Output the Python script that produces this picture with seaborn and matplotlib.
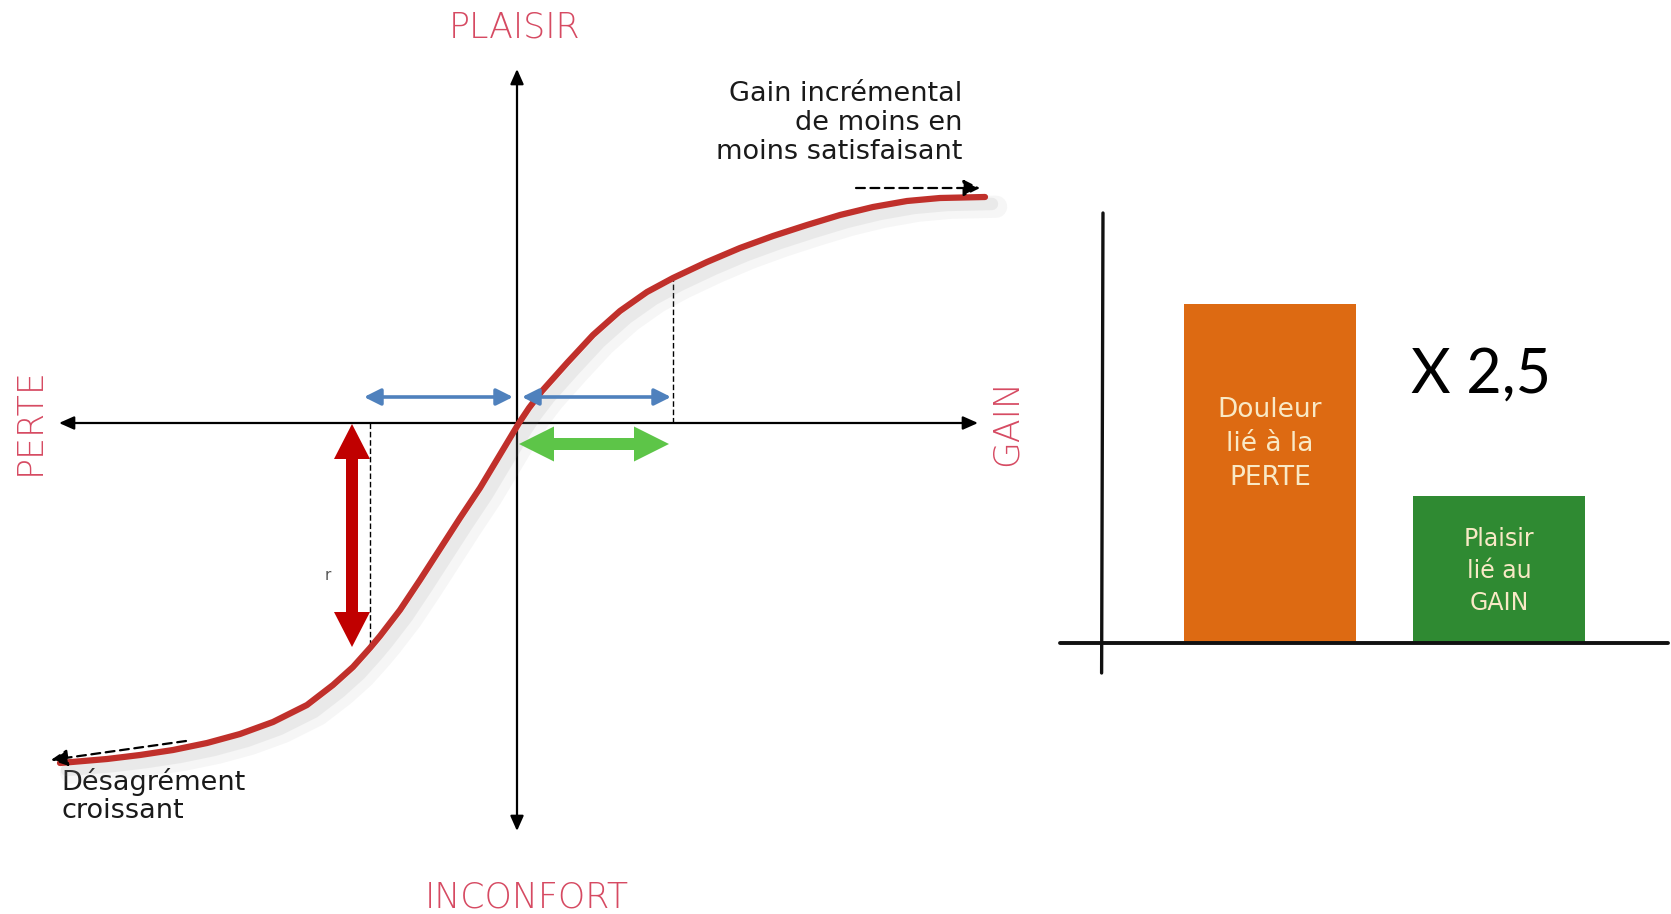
import numpy as np
import pandas as pd
import matplotlib
matplotlib.use("Agg")
import matplotlib.pyplot as plt
import matplotlib.patheffects as pe
from matplotlib.patches import FancyArrowPatch, ArrowStyle
import seaborn as sns

# ---------------- data ----------------
# value function (loss aversion), origin at axes crossing
curve_x = [-4.57, -4.10, -3.77, -3.44, -3.10, -2.77, -2.44, -2.10, -1.84, -1.64,
           -1.47, -1.37, -1.17, -0.97, -0.77, -0.57, -0.37, -0.16, 0.02, 0.12,
           0.25, 0.50, 0.76, 1.03, 1.30, 1.56, 1.90, 2.23, 2.56, 2.90,
           3.23, 3.56, 3.90, 4.23, 4.68]
curve_y = [-3.40, -3.36, -3.32, -3.27, -3.20, -3.11, -2.99, -2.82, -2.62, -2.44,
           -2.25, -2.13, -1.87, -1.57, -1.26, -0.95, -0.65, -0.30, 0.00, 0.15,
           0.32, 0.60, 0.88, 1.12, 1.31, 1.45, 1.61, 1.75, 1.87, 1.98,
           2.08, 2.16, 2.22, 2.25, 2.26]

bar_categories = ["Douleur\nlié à la\nPERTE", "Plaisir\nlié au\nGAIN"]
bar_values = [3.39, 1.47]
bar_colors = ["#dd6a12", "#2f8a32"]
ratio_label = "X 2,5"

axis_labels = ["PLAISIR", "INCONFORT", "PERTE", "GAIN"]
note_gain = "Gain incrémental\nde moins en\nmoins satisfaisant"
note_loss = "Désagrément\ncroissant"

# ---------------- figure ----------------
sns.set_theme(style="white")
plt.rcParams["font.family"] = ["DejaVu Sans"]

W, H = 16.71, 9.14
fig = plt.figure(figsize=(W, H), dpi=100)

# left panel: 1 data unit = 100 px
axl = fig.add_axes([0, 0, 1040 / 1671, 1])
axl.set_xlim(-5.17, 5.23)
axl.set_ylim(-4.91, 4.23)
axl.axis("off")

black_head = ArrowStyle("-|>", head_length=9, head_width=4)
for (a, b) in [((0, 0), (4.61, 0)), ((0, 0), (-4.58, 0)),
               ((0, 0), (0, 3.54)), ((0, 0), (0, -4.08))]:
    axl.add_patch(FancyArrowPatch(a, b, arrowstyle=black_head, color="black",
                                  lw=1.6, shrinkA=0, shrinkB=0, mutation_scale=1,
                                  zorder=2))

# dashed guide lines
axl.plot([1.56, 1.56], [0, 1.45], ls=(0, (4, 2)), color="black", lw=1.0, zorder=2)
axl.plot([-1.47, -1.47], [0, -2.22], ls=(0, (4, 2)), color="black", lw=1.0, zorder=2)

# value curve with soft shadow
sns.lineplot(x=curve_x, y=curve_y, sort=False, estimator=None, ax=axl,
             color="#c0302b", lw=4.5, zorder=4, solid_joinstyle="round",
             path_effects=[pe.SimpleLineShadow(offset=(8, -7), shadow_color="#909090",
                                                alpha=0.08, linewidth=16),
                           pe.SimpleLineShadow(offset=(5, -5), shadow_color="#909090",
                                                alpha=0.12, linewidth=9),
                           pe.Normal()])

# dashed arrows at curve ends
for (a, b) in [((3.39, 2.35), (4.63, 2.35)), ((-3.31, -3.18), (-4.66, -3.37))]:
    axl.add_patch(FancyArrowPatch(a, b, arrowstyle=ArrowStyle("-|>", head_length=10, head_width=5),
                                  color="black", lw=1.6, linestyle=(0, (4, 2.5)),
                                  shrinkA=0, shrinkB=0, mutation_scale=1, zorder=5))

# blue double arrows
blue = "#4f81bd"
for (a, b) in [((-1.53, 0.26), (-0.04, 0.26)), ((0.05, 0.26), (1.54, 0.26))]:
    axl.add_patch(FancyArrowPatch(a, b, arrowstyle=ArrowStyle("<|-|>", head_length=10, head_width=5),
                                  color=blue, lw=2.6, shrinkA=0, shrinkB=0,
                                  mutation_scale=1, zorder=5))

# fat double arrows: two overlapping halves from around the middle
ov = 0.25
g_mid, g_half = 0.77, 0.75
for s in (1, -1):
    axl.arrow(g_mid - s * ov, -0.21, s * (g_half + ov), 0, width=0.12, head_width=0.35,
              head_length=0.35, length_includes_head=True, fc="#5dc548", ec="none", zorder=6)
r_mid, r_half = -1.125, 1.115
for s in (1, -1):
    axl.arrow(-1.65, r_mid - s * ov, 0, s * (r_half + ov), width=0.12, head_width=0.36,
              head_length=0.35, length_includes_head=True, fc="#c00000", ec="none", zorder=6)

pink = "#d64a62"
lab_font = dict(family=["DejaVu Sans"], fontweight=200, color=pink, fontsize=25)
axl.text(-0.02, 3.96, axis_labels[0], ha="center", va="center", **lab_font)
axl.text(0.10, -4.75, axis_labels[1], ha="center", va="center", **lab_font)
axl.text(-4.87, 0.02, axis_labels[2], ha="center", va="center", rotation=90, **lab_font)
axl.text(4.90, 0.0, axis_labels[3], ha="center", va="center", rotation=90, **lab_font)

axl.text(4.45, 3.00, note_gain, ha="right", va="center", fontsize=19.5,
         linespacing=1.15, color="#1a1a1a")
axl.text(-4.56, -3.73, note_loss, ha="left", va="center", fontsize=19.5,
         linespacing=1.15, color="#1a1a1a")
axl.text(-1.89, -1.52, "r", ha="center", va="center", fontsize=11, color="#555555")

# ---------------- right panel: bars ----------------
axr = fig.add_axes([1040 / 1671, (914 - 700) / 914, (1671 - 1040) / 1671, 520 / 914])
df = pd.DataFrame({"cat": bar_categories, "val": bar_values})
sns.barplot(data=df, x="cat", y="val", hue="cat", palette=bar_colors, width=0.75,
            legend=False, ax=axr, saturation=1, edgecolor="none")
axr.set_xlim(-1.004, 1.751)
axr.set_ylim(-0.57, 4.63)
axr.axis("off")

# hand-drawn style axes
axr.plot([-0.729, -0.735], [4.30, -0.30], color="#111111", lw=2.4, solid_capstyle="round")
axr.plot([-0.917, 1.738], [0.0, 0.0], color="#111111", lw=2.8, solid_capstyle="round")

cream = dict(family=["DejaVu Sans"], color="#f9e9c6", ha="center", va="center")
axr.text(0, 1.99, bar_categories[0], fontsize=19, linespacing=1.4, **cream)
axr.text(1, 0.72, bar_categories[1], fontsize=17, linespacing=1.4, **cream)

axr.text(0.921, 2.68, ratio_label, ha="center", va="center", fontsize=44,
         family=["Lato", "DejaVu Sans"], color="black")

fig.savefig("out.png", dpi=100)
